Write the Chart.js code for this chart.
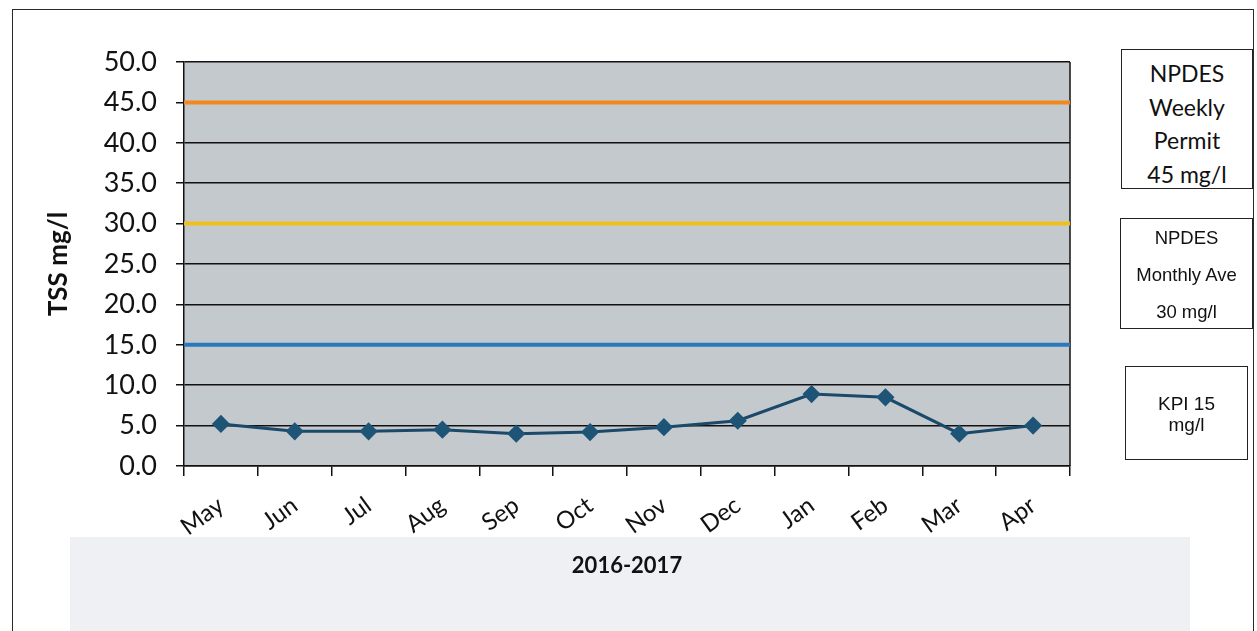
<!DOCTYPE html>
<html>
<head>
<meta charset="utf-8">
<title>TSS 2016-2017</title>
<script src="https://cdn.jsdelivr.net/npm/chart.js@4"></script>
<style>
  body { margin: 0; background: #fff; }
  #page { position: relative; width: 1257px; height: 631px; overflow: hidden; }
  #haze { position: absolute; left: 70px; top: 537px; width: 1120px; height: 110px; background: #eef0f3; }
  #frame { position: absolute; left: 12px; top: 9px; width: 1240px; height: 660px; border: 1.5px solid #2a2a2a; }
  canvas { position: absolute; left: 0; top: 0; }
  .box { position: absolute; box-sizing: border-box; border: 1.5px solid #222; background: #fff; text-align: center; color: #111; }
  #weekly { left: 1121px; top: 49px; width: 132px; height: 140px; font: 23px Lato, sans-serif; line-height: 33.5px; padding-top: 7px; }
  #monthly { left: 1120px; top: 218px; width: 133px; height: 111px; font: 18.5px "Liberation Sans", Arial, sans-serif; line-height: 37px; padding-top: 0; }
  #kpi { left: 1125px; top: 366px; width: 123px; height: 94px; font: 19px "Liberation Sans", Arial, sans-serif; line-height: 21px; padding-top: 26px; }
</style>
</head>
<body>
<div id="page">
  <div id="haze"></div>
  <div id="frame"></div>
  <canvas id="tssChart" width="1257" height="631"></canvas>
  <div class="box" id="weekly">NPDES<br>Weekly<br>Permit<br>45 mg/l</div>
  <div class="box" id="monthly">NPDES<br>Monthly Ave<br>30 mg/l</div>
  <div class="box" id="kpi">KPI 15<br>mg/l</div>
</div>
<script>
// Monthly TSS results, May 2016 - Apr 2017
const months = ['May', 'Jun', 'Jul', 'Aug', 'Sep', 'Oct', 'Nov', 'Dec', 'Jan', 'Feb', 'Mar', 'Apr'];
const tssValues = [5.2, 4.3, 4.3, 4.5, 4.0, 4.2, 4.8, 5.6, 8.9, 8.5, 4.0, 5.0];

// Permit / target levels (mg/l)
const weeklyPermit = 45;
const monthlyAverage = 30;
const kpiTarget = 15;

Chart.defaults.font.family = 'Lato';
Chart.defaults.color = '#111';

// horizontal limit line spanning the whole plot width
function limitLine(label, value, color) {
    return {
        label: label,
        data: [{ x: 0, y: value }, { x: months.length, y: value }],
        xAxisID: 'xLimit',
        borderColor: color,
        borderWidth: 4,
        pointRadius: 0,
        order: 2
    };
}

// grey plot area and right-hand border
const plotArea = {
    id: 'plotArea',
    beforeDraw(chart) {
        const { ctx, chartArea: { left, top, width, height } } = chart;
        ctx.save();
        ctx.fillStyle = '#c4c9ce';
        ctx.fillRect(left, top, width, height);
        ctx.restore();
    },
    beforeDatasetsDraw(chart) {
        const { ctx, chartArea: { right, top, bottom } } = chart;
        ctx.save();
        ctx.strokeStyle = '#111';
        ctx.lineWidth = 1.5;
        ctx.beginPath();
        ctx.moveTo(right, top);
        ctx.lineTo(right, bottom);
        ctx.stroke();
        ctx.restore();
    }
};

new Chart(document.getElementById('tssChart'), {
    type: 'line',
    data: {
        labels: months,
        datasets: [
            {
                label: 'TSS',
                data: tssValues,
                borderColor: '#1b4969',
                borderWidth: 3,
                pointStyle: 'rectRot',
                pointRadius: 7,
                pointBackgroundColor: '#1e5577',
                pointBorderColor: '#1e5577',
                tension: 0,
                order: 1
            },
            limitLine('NPDES Weekly Permit', weeklyPermit, '#f2891f'),
            limitLine('NPDES Monthly Ave', monthlyAverage, '#efc01c'),
            limitLine('KPI', kpiTarget, '#2b78bb')
        ]
    },
    options: {
        responsive: false,
        animation: false,
        layout: { padding: { left: 0, right: 187, top: 62, bottom: 0 } },
        plugins: {
            legend: { display: false },
            tooltip: { enabled: false }
        },
        scales: {
            x: {
                type: 'category',
                offset: true,
                grid: { drawOnChartArea: false, offset: true, tickLength: 10, color: '#111', lineWidth: 1.5 },
                border: { color: '#111', width: 1.5 },
                ticks: { minRotation: 36, maxRotation: 36, padding: 15, font: { size: 24 } },
                title: {
                    display: true,
                    text: '2016-2017',
                    font: { size: 22, weight: 'bold' },
                    padding: { top: 0, bottom: 52 }
                },
                afterFit(scale) { scale.height = 165; }
            },
            xLimit: { type: 'linear', min: 0, max: months.length, display: false },
            y: {
                min: 0,
                max: 50,
                ticks: { stepSize: 5, padding: 19, font: { size: 27 }, callback: v => v.toFixed(1) },
                grid: { color: '#111', lineWidth: 1.5, tickLength: 8 },
                border: { color: '#111', width: 1.5 },
                title: {
                    display: true,
                    text: 'TSS mg/l',
                    font: { size: 26, weight: 'bold' },
                    padding: { top: 43, bottom: 0 }
                },
                afterFit(scale) { scale.width = 184; }
            }
        }
    },
    plugins: [plotArea]
});
</script>
</body>
</html>
